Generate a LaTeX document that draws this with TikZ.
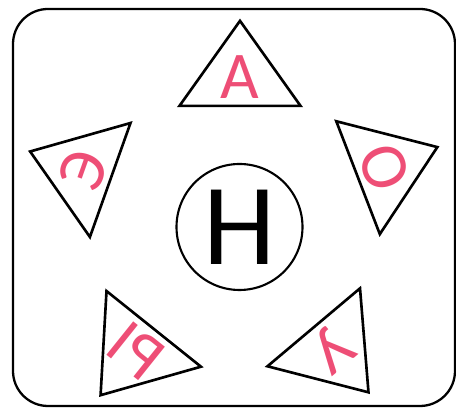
\documentclass[tikz,border=0pt]{standalone}
\usepackage{fontspec}
\setmainfont{Carlito}
\usetikzlibrary{positioning}
\definecolor{lpink}{RGB}{238,78,118}

\begin{document}
\begin{tikzpicture}[
  frame/.style={draw=black, line width=1.3pt, rounded corners=0.7cm},
  tri/.style={draw=black, line width=1.5pt, line join=miter},
  lett/.style={text=lpink, font=\fontsize{38}{38}\selectfont, inner sep=0pt},
  ring/.style={circle, draw=black, line width=1.2pt, minimum size=2.52cm,
               inner sep=0pt, font=\fontsize{66}{66}\selectfont}]

\useasboundingbox (0,0) rectangle (9.12,8.18);
\draw[frame] (0.26,0.06) rectangle (9.10,8.0);

\node[ring] (n) at (4.79,3.64) {Н};

% letters sit on the centre of each triangle
\node[lett] (la) at (4.80,6.63) {А};
\node[lett, rotate=-68.9] (lo) at (7.69,4.83) {О};
\node[lett, rotate=-139.9] (lu) at (6.64,1.20) {У};
\node[lett, rotate=141.3] (ly) at (2.72,1.16) {Ы};
\node[lett, rotate=70.4] (le) at (1.67,4.77) {Э};

\draw[tri, shift={(la)}] (0,1.133) -- (1.21,-0.567) -- (-1.21,-0.567) -- cycle;
\draw[tri, shift={(lo)}, rotate=-68.9] (0,1.133) -- (1.21,-0.567) -- (-1.21,-0.567) -- cycle;
\draw[tri, shift={(lu)}, rotate=-139.9] (0,1.133) -- (1.21,-0.567) -- (-1.21,-0.567) -- cycle;
\draw[tri, shift={(ly)}, rotate=141.3] (0,1.133) -- (1.21,-0.567) -- (-1.21,-0.567) -- cycle;
\draw[tri, shift={(le)}, rotate=70.4] (0,1.133) -- (1.21,-0.567) -- (-1.21,-0.567) -- cycle;
\end{tikzpicture}
\end{document}
